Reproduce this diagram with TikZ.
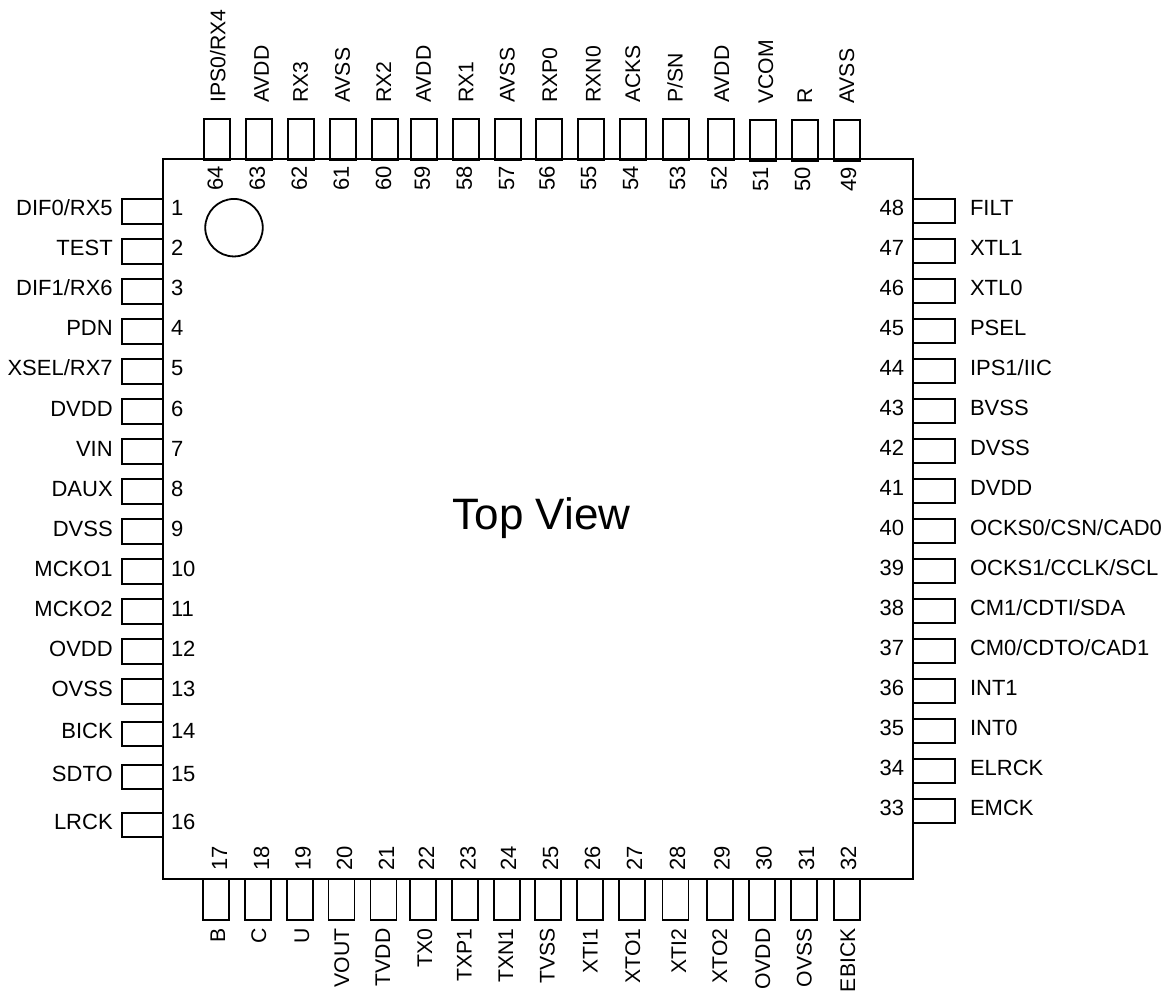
\documentclass[tikz,border=0pt]{standalone}
\usepackage{fontspec}
\setmainfont{Liberation Sans}
\usepackage{tikz}
\usetikzlibrary{shapes.geometric,calc}
\tikzset{
  pintext/.style={inner sep=0pt,outer sep=0pt,text height=16pt,text depth=0pt},
  sidetext/.style={pintext,font=\fontsize{21.2}{26}\selectfont},
  pinbox/.style={draw,inner sep=0pt,outer sep=0pt},
  lpin/.style 2 args={pinbox,minimum width=41pt,minimum height=24.5pt,
    label={[name=n#1,pintext,xshift=-9.3pt,yshift=3.5pt]left:#2},
    label={[name=t#1,pintext,xshift=8pt,yshift=3.5pt]right:#1}},
  rpin/.style 2 args={pinbox,minimum width=42pt,minimum height=24.5pt,
    label={[name=n#1,pintext,xshift=15pt,yshift=3.5pt]right:#2},
    label={[name=t#1,pintext,xshift=-9pt,yshift=3.5pt]left:#1}},
  tpin/.style n args={4}{pinbox,minimum width=26pt,minimum height=40.5pt,
    label={[name=n#1,sidetext,xshift=#3pt,yshift=16.5pt,rotate=90,anchor=west]above:#2},
    label={[name=t#1,pintext,xshift=#4pt,yshift=-31pt,rotate=90,anchor=west]below:#1}},
  bpin/.style n args={4}{pinbox,minimum width=26pt,minimum height=41pt,
    label={[name=n#1,sidetext,xshift=#3pt,yshift=-8.5pt,rotate=90,anchor=east]below:#2},
    label={[name=t#1,pintext,xshift=#4pt,yshift=8.5pt,rotate=90,anchor=west]above:#1}}
}
\begin{document}
\begin{tikzpicture}[x=1pt,y=-1pt,line width=1.8pt,every node/.style={font=\fontsize{22}{26}\selectfont}]
   \useasboundingbox (0,0) rectangle (1173,992);
   \node (chip) [draw,inner sep=0pt,outer sep=0pt,minimum width=749.5pt,minimum height=720pt] at (538,519.2) {};
   \node (dot) [draw,circle,inner sep=0pt,minimum size=57.5pt] at (234,227.7) {};
   \node (view) [anchor=base,font=\fontsize{44}{52}\selectfont] at (541.5,529.5) {Top View};
   \begin{scope}
    \node (p1) [lpin={1}{DIF0/RX5}] at (142.5,211.5) {};
    \node (p2) [lpin={2}{TEST}] at (142.5,251.5) {};
    \node (p3) [lpin={3}{DIF1/RX6}] at (142.5,291.5) {};
    \node (p4) [lpin={4}{PDN}] at (142.5,331.5) {};
    \node (p5) [lpin={5}{XSEL/RX7}] at (142.5,371.5) {};
    \node (p6) [lpin={6}{DVDD}] at (142.5,411.5) {};
    \node (p7) [lpin={7}{VIN}] at (142.5,451.5) {};
    \node (p8) [lpin={8}{DAUX}] at (142.5,491.5) {};
    \node (p9) [lpin={9}{DVSS}] at (142.5,531.5) {};
    \node (p10) [lpin={10}{MCKO1}] at (142.5,571.5) {};
    \node (p11) [lpin={11}{MCKO2}] at (142.5,611.5) {};
    \node (p12) [lpin={12}{OVDD}] at (142.5,651.5) {};
    \node (p13) [lpin={13}{OVSS}] at (142.5,691.5) {};
    \node (p14) [lpin={14}{BICK}] at (142.5,734) {};
    \node (p15) [lpin={15}{SDTO}] at (142.5,777) {};
    \node (p16) [lpin={16}{LRCK}] at (142.5,825) {};
   \end{scope}
   \begin{scope}
    \node (p17) [bpin={17}{B}{1}{3}] at (216.2,899.5) {};
    \node (p18) [bpin={18}{C}{0}{3}] at (258,899.5) {};
    \node (p19) [bpin={19}{U}{1}{2.5}] at (300,899.5) {};
    \node (p20) [bpin={20}{VOUT}{-0.5}{2.5}] at (341.5,899.5) {};
    \node (p21) [bpin={21}{TVDD}{-1.5}{2.5}] at (383.5,899.5) {};
    \node (p22) [bpin={22}{TX0}{1}{3}] at (423,899.5) {};
    \node (p23) [bpin={23}{TXP1}{-1.5}{2.5}] at (465,899.5) {};
    \node (p24) [bpin={24}{TXN1}{-2}{1}] at (507,899.5) {};
    \node (p25) [bpin={25}{TVSS}{-1.5}{2}] at (548,899.5) {};
    \node (p26) [bpin={26}{XTI1}{-0.5}{2}] at (590,899.5) {};
    \node (p27) [bpin={27}{XTO1}{0}{2}] at (632,899.5) {};
    \node (p28) [bpin={28}{XTI2}{2.5}{1.5}] at (675.5,899.5) {};
    \node (p29) [bpin={29}{XTO2}{-1}{1.5}] at (720,899.5) {};
    \node (p30) [bpin={30}{OVDD}{0}{1.5}] at (762,899.5) {};
    \node (p31) [bpin={31}{OVSS}{-0.5}{2}] at (804,899.5) {};
    \node (p32) [bpin={32}{EBICK}{0}{1}] at (847,899.5) {};
   \end{scope}
   \begin{scope}
    \node (p33) [rpin={33}{EMCK}] at (934,811) {};
    \node (p34) [rpin={34}{ELRCK}] at (934,771) {};
    \node (p35) [rpin={35}{INT0}] at (934,731) {};
    \node (p36) [rpin={36}{INT1}] at (934,691) {};
    \node (p37) [rpin={37}{CM0/CDTO/CAD1}] at (934,651) {};
    \node (p38) [rpin={38}{CM1/CDTI/SDA}] at (934,611) {};
    \node (p39) [rpin={39}{OCKS1/CCLK/SCL}] at (934,571) {};
    \node (p40) [rpin={40}{OCKS0/CSN/CAD0}] at (934,531) {};
    \node (p41) [rpin={41}{DVDD}] at (934,491) {};
    \node (p42) [rpin={42}{DVSS}] at (934,451) {};
    \node (p43) [rpin={43}{BVSS}] at (934,411) {};
    \node (p44) [rpin={44}{IPS1/IIC}] at (934,371) {};
    \node (p45) [rpin={45}{PSEL}] at (934,331) {};
    \node (p46) [rpin={46}{XTL0}] at (934,291) {};
    \node (p47) [rpin={47}{XTL1}] at (934,251) {};
    \node (p48) [rpin={48}{FILT}] at (934,211) {};
   \end{scope}
   \begin{scope}
    \node (p49) [tpin={49}{AVSS}{-1}{1}] at (847,140.5) {};
    \node (p50) [tpin={50}{R}{-1}{-3}] at (805,140.5) {};
    \node (p51) [tpin={51}{VCOM}{2}{-3}] at (763,140.5) {};
    \node (p52) [tpin={52}{AVDD}{0}{-2.5}] at (721,139.5) {};
    \node (p53) [tpin={53}{P/SN}{-1}{1.5}] at (675.7,139.5) {};
    \node (p54) [tpin={54}{ACKS}{-1}{-3}] at (633,139.5) {};
    \node (p55) [tpin={55}{RXN0}{1.5}{-3}] at (591,139.5) {};
    \node (p56) [tpin={56}{RXP0}{0}{-2.5}] at (549,139.5) {};
    \node (p57) [tpin={57}{AVSS}{-1.5}{-2}] at (508,139.5) {};
    \node (p58) [tpin={58}{RX1}{-1}{-2.5}] at (466.3,139.5) {};
    \node (p59) [tpin={59}{AVDD}{-1.5}{-2.5}] at (424.3,139.5) {};
    \node (p60) [tpin={60}{RX2}{-2}{-2}] at (385,139.5) {};
    \node (p61) [tpin={61}{AVSS}{-1.5}{-2.5}] at (343.3,139.5) {};
    \node (p62) [tpin={62}{RX3}{-1.5}{-2.5}] at (301.3,139.5) {};
    \node (p63) [tpin={63}{AVDD}{1.5}{-2.5}] at (259.3,139.5) {};
    \node (p64) [tpin={64}{IPS0/RX4}{0}{-2.5}] at (217.3,139.5) {};
   \end{scope}
\end{tikzpicture}
\end{document}
